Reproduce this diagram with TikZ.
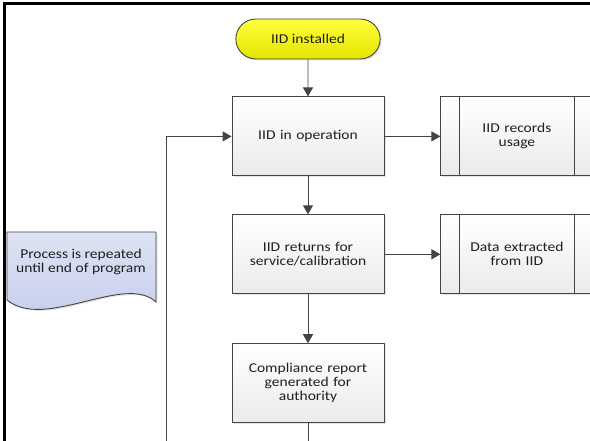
\documentclass[tikz,border=0pt]{standalone}
\usepackage{fontspec}
\setmainfont{Carlito}[FakeStretch=1.15]
\usetikzlibrary{positioning,calc,arrows.meta,shapes.misc,shadows}

\definecolor{termtop}{HTML}{FFFF3C}
\definecolor{termbot}{HTML}{E4E400}
\definecolor{notetop}{HTML}{DEE3F4}
\definecolor{notebot}{HTML}{C3CBEA}
\definecolor{edge}{HTML}{444444}

\begin{document}
\begin{tikzpicture}[x=1pt,y=1pt,
  font=\fontsize{13.5}{14}\selectfont,
  softshadow/.style={drop shadow={shadow xshift=1.5pt,shadow yshift=-1.5pt,opacity=0.2}},
  flowline/.style={draw=edge,line width=0.9pt},
  flowarrow/.style={flowline,-{Triangle[width=10pt,length=9pt]}},
  stepbox/.style={draw=edge,line width=0.9pt,top color=white,bottom color=black!8,
    minimum width=152pt,minimum height=79pt,text width=140pt,align=center,
    text=black!88,softshadow},
  termbox/.style={rounded rectangle,draw=edge,line width=0.9pt,top color=termtop,
    bottom color=termbot,minimum width=151pt,minimum height=40pt,text=black!88,softshadow},
  notebox/.style={draw=edge,line width=0.9pt,top color=notetop,bottom color=notebot,softshadow}]

  \useasboundingbox (0,0) rectangle (590,441);

  % outer frame
  \draw[line width=3pt,line join=miter] (4.5,-5) -- (4.5,437) -- (595,437);

  % main column
  \node[termbox] (start) at (308,402) {IID installed};
  \node[stepbox,below=37pt of start] (op) {IID in operation};
  \node[stepbox,below=38pt of op] (ret) {IID returns for\\service/calibration};
  \node[stepbox,below=49pt of ret] (comp) {Compliance report\\generated for\\authority};

  % predefined processes
  \node[stepbox,right=56pt of op] (rec) {IID records\\usage};
  \node[stepbox,right=56pt of ret] (dat) {Data extracted\\from IID};
  \foreach \n in {rec,dat} {
    \draw[flowline] ($(\n.north west)+(19,0)$) -- ($(\n.south west)+(19,0)$);
    \draw[flowline] ($(\n.north east)+(-19,0)$) -- ($(\n.south east)+(-19,0)$);
  }

  % document note
  \draw[notebox] (7,209) -- (156,209) -- (156,139)
    .. controls (125,168) and (45,110) .. (7,141) -- cycle;
  \node[align=center,text=black!88] (note) at (81,179) {Process is repeated\\until end of program};

  % connectors
  \coordinate (loopin) at (166,-5);
  \coordinate (compout) at (308,-5);
  \draw[flowarrow] (start) -- (op);
  \draw[flowarrow] (op) -- (ret);
  \draw[flowarrow] (ret) -- (comp);
  \draw[flowarrow] (op) -- (rec);
  \draw[flowarrow] (ret) -- (dat);
  \draw[flowline] (comp) -- (compout);
  \draw[flowarrow] (loopin) |- (op.west);
\end{tikzpicture}
\end{document}
